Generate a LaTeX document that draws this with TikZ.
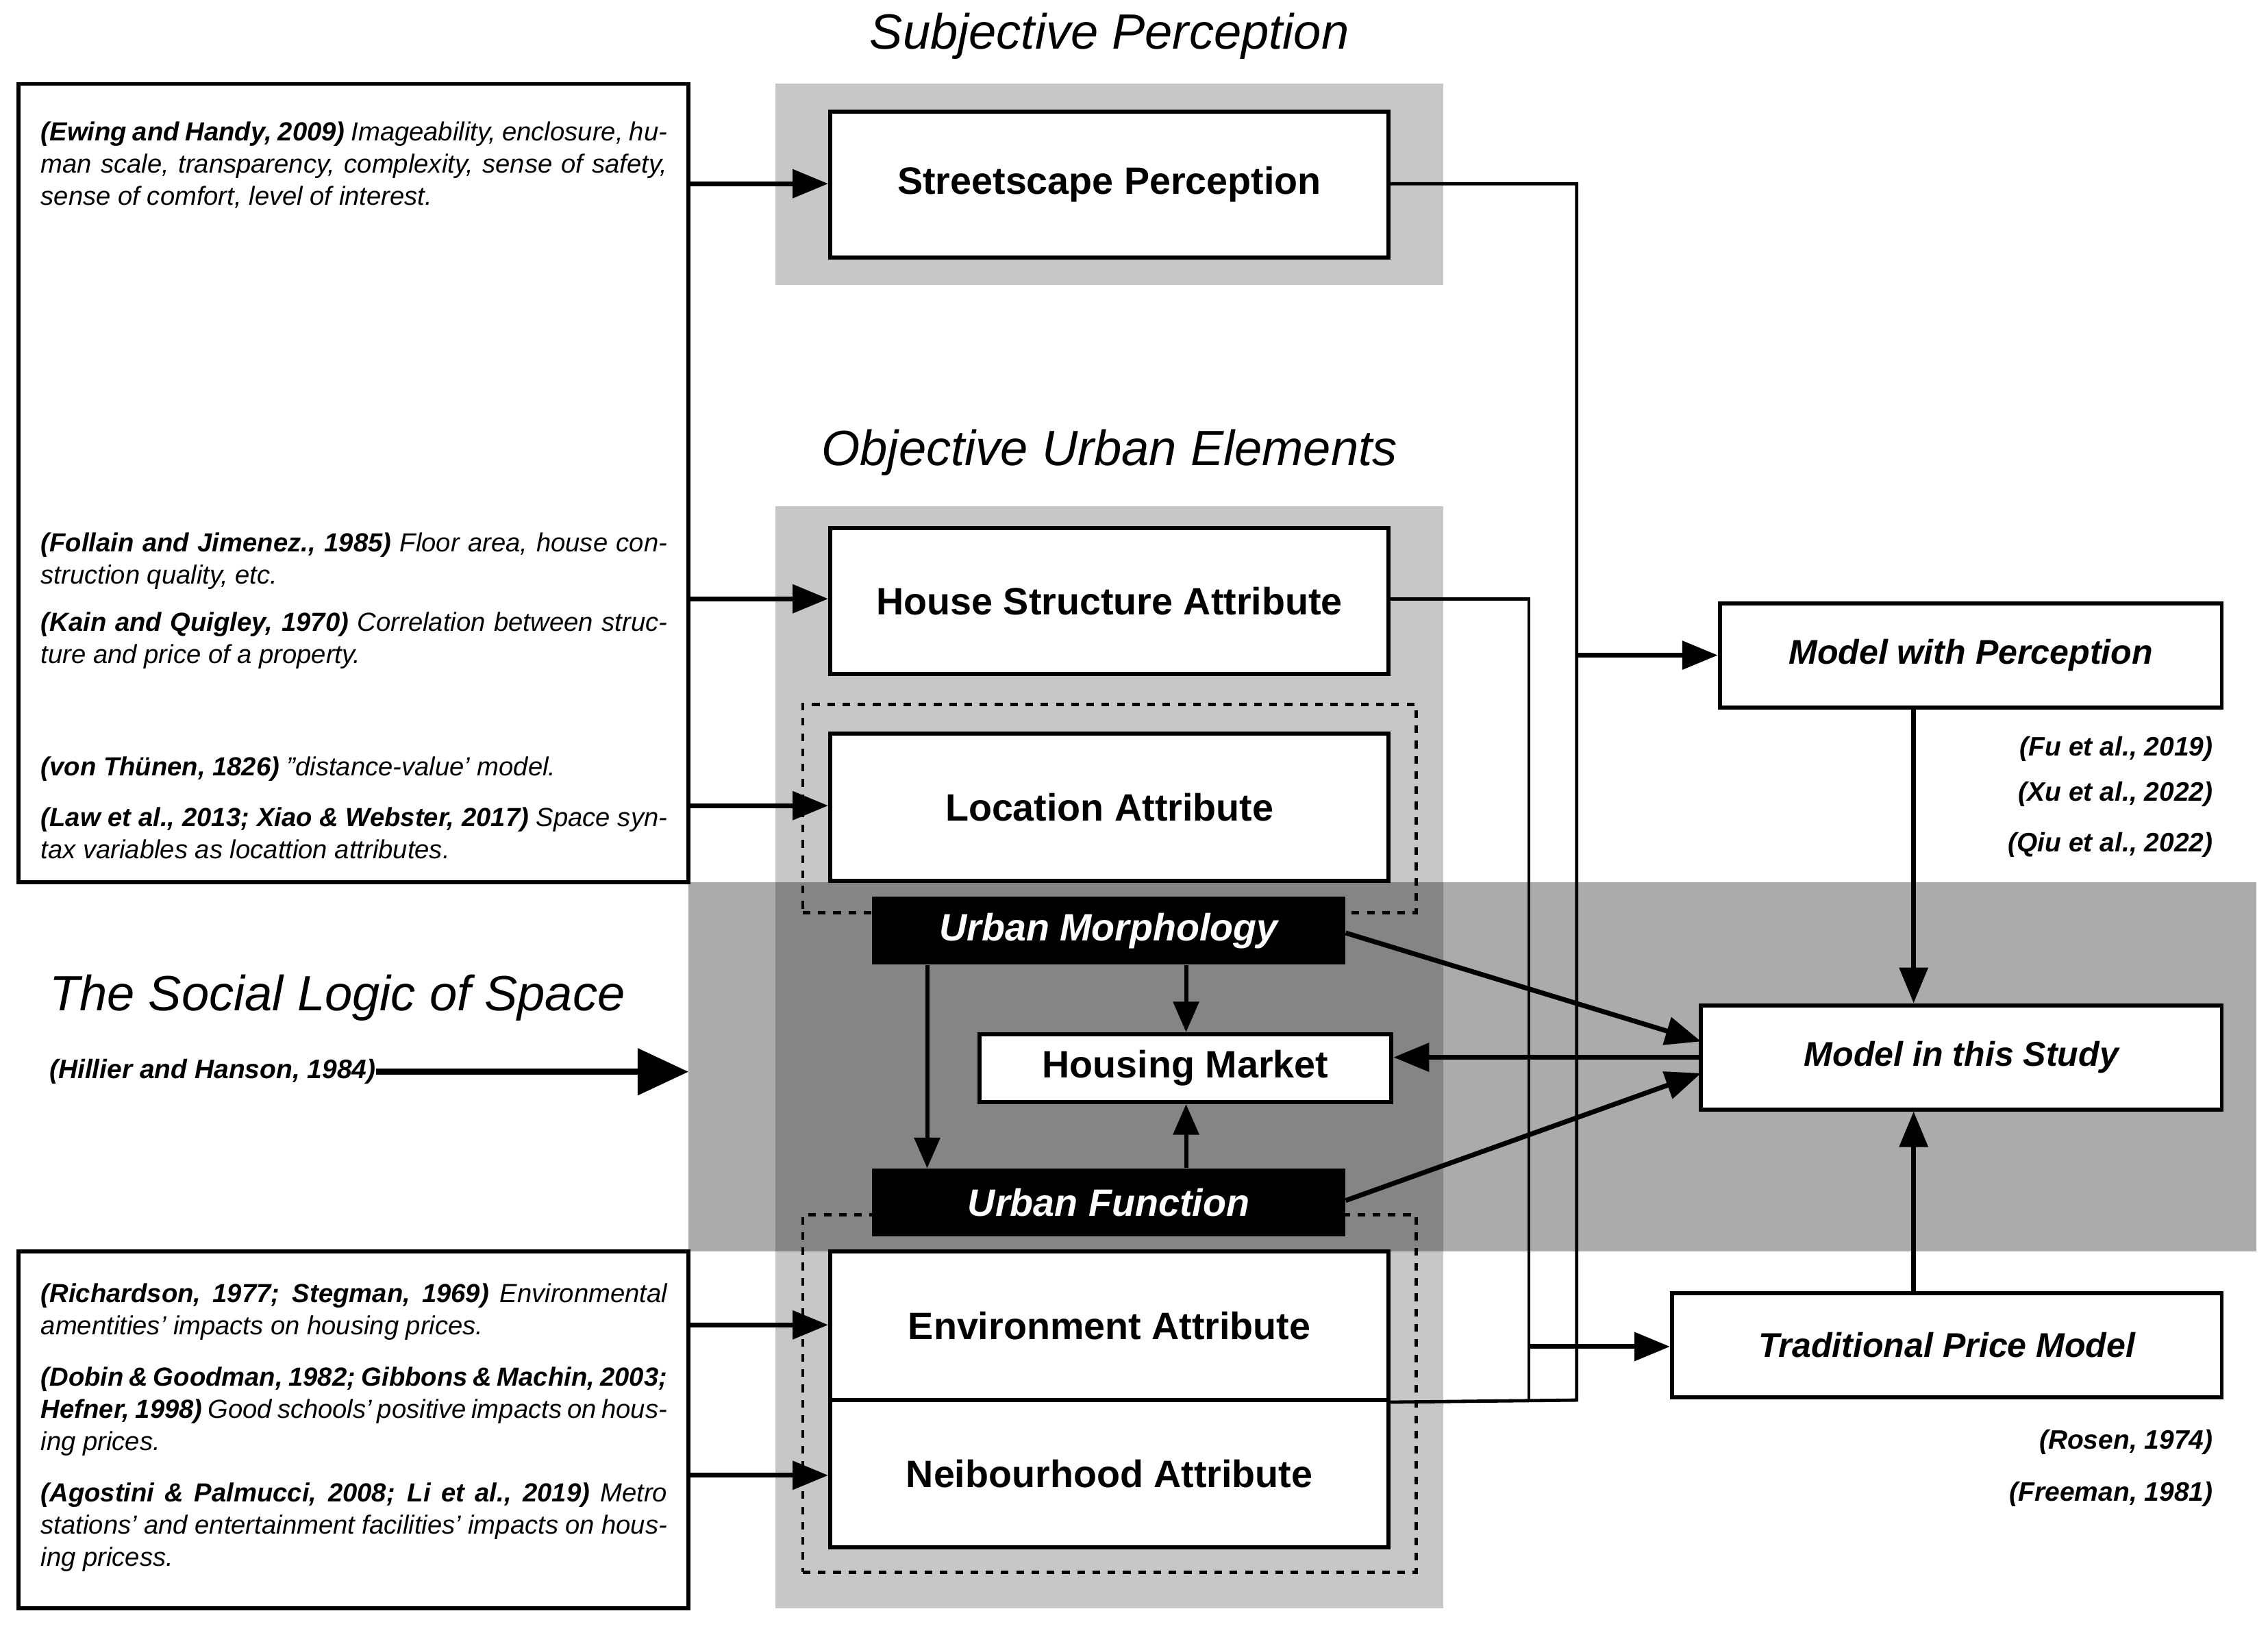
\documentclass[tikz,border=0pt]{standalone}
\usepackage{fontspec}
\setmainfont{Liberation Sans}
\usetikzlibrary{fit,arrows.meta}
\begin{document}
\begin{tikzpicture}[x=0.02cm,y=-0.02cm,
 box/.style={draw,line width=1.6pt,fill=white,inner sep=0pt},
 blk/.style={fill=black,inner sep=0pt},
 dsh/.style={draw,dashed,line width=1.3pt,inner sep=0pt},
 lt/.style={font=\fontsize{15}{18}\selectfont\bfseries},
 rt/.style={font=\fontsize{13.5}{16}\selectfont\bfseries\itshape},
 cit/.style={font=\fontsize{10.5}{13}\selectfont\bfseries\itshape,anchor=east},
 par/.style={anchor=north west,text width=433*0.02cm,align=justify,inner sep=0pt,font=\fontsize{10.3}{12.6}\selectfont\itshape},
 ln/.style={line width=1.3pt},
 ar/.style={line width=1.9pt,-{Triangle[length=14pt,width=11pt]}},
 arr/.style={line width=1.6pt,-{Triangle[length=12pt,width=10pt]}}]
\useasboundingbox (0,0) rectangle (1568,1130);
% backgrounds
\fill[gray!40!white,fill=black!22] (536,58) rectangle (998,197);
\fill[fill=black!22] (536,350) rectangle (998,1112);
\fill[fill=black!33] (476,610) rectangle (1560,865);
\fill[fill=black!48] (536,610) rectangle (998,865);
% titles
\node[font=\fontsize{19.5}{22}\selectfont\itshape] (t1) at (767,25) {Subjective Perception};
\node[font=\fontsize{19.5}{22}\selectfont\itshape] (t2) at (767,313) {Objective Urban Elements};
% main boxes
\node[box,fit={(574,77) (960,178)},label={[lt]center:Streetscape Perception}] (sp) {};
\node[box,fit={(574,365) (960,466)},label={[lt]center:House Structure Attribute}] (hs) {};
\node[dsh,fit={(555,487) (979,631)}] (d1) {};
\node[box,fit={(574,507) (960,609)},label={[lt]center:Location Attribute}] (la) {};
\node[dsh,fit={(555,840) (979,1087)}] (d2) {};
\node[box,fit={(574,865) (960,968)},label={[lt]center:Environment Attribute}] (ea) {};
\node[box,fit={(574,968) (960,1070)},label={[lt]center:Neibourhood Attribute}] (na) {};
\node[blk,fit={(603,620) (930,667)},label={[lt,white,font=\fontsize{15}{18}\selectfont\bfseries\itshape]center:Urban Morphology}] (um) {};
\node[blk,fit={(603,808) (930,855)},label={[lt,white,font=\fontsize{15}{18}\selectfont\bfseries\itshape]center:Urban Function}] (uf) {};
\node[box,fit={(677,715) (962,762)},label={[lt]center:Housing Market}] (hm) {};
% right boxes
\node[box,fit={(1189,417) (1536,489)},label={[rt]center:Model with Perception}] (mp) {};
\node[box,fit={(1176,695) (1536,767)},label={[rt]center:Model in this Study}] (ms) {};
\node[box,fit={(1156,894) (1536,966)},label={[rt]center:Traditional Price Model}] (tp) {};
\node[cit] (c1) at (1536,518) {(Fu et al., 2019)};
\node[cit] (c2) at (1536,549) {(Xu et al., 2022)};
\node[cit] (c3) at (1536,584) {(Qiu et al., 2022)};
\node[cit] (c4) at (1536,997) {(Rosen, 1974)};
\node[cit] (c5) at (1536,1033) {(Freeman, 1981)};
% left boxes
\node[box,fit={(13,58) (476,610)}] (lb1) {};
\node[box,fit={(13,865) (476,1112)}] (lb2) {};
\node[par] (p1) at (28,84) {\textbf{(Ewing and Handy, 2009)} Imageability, enclosure, human scale, transparency, complexity, sense of safety, sense of comfort, level of interest.};
\node[par] (p2) at (28,368) {\textbf{(Follain and Jimenez., 1985)} Floor area, house construction quality, etc.};
\node[par] (p3) at (28,423) {\textbf{(Kain and Quigley, 1970)} Correlation between structure and price of a property.};
\node[par] (p4) at (28,523) {\textbf{(von Thünen, 1826)} ”distance-value' model.};
\node[par] (p5) at (28,558) {\textbf{(Law et al., 2013; Xiao \& Webster, 2017)} Space syntax variables as locattion attributes.};
\node[par] (p6) at (28,887) {\textbf{(Richardson, 1977; Stegman, 1969)} Environmental amentities' impacts on housing prices.};
\node[par] (p7) at (28,945) {\textbf{(Dobin \& Goodman, 1982; Gibbons \& Machin, 2003; Hefner, 1998)} Good schools' positive impacts on housing prices.};
\node[par] (p8) at (28,1025) {\textbf{(Agostini \& Palmucci, 2008; Li et al., 2019)} Metro stations' and entertainment facilities' impacts on housing pricess.};
\node[font=\fontsize{19.5}{22}\selectfont\itshape,anchor=west] (sl) at (28,690) {The Social Logic of Space};
\node[font=\fontsize{10.5}{13}\selectfont\bfseries\itshape,anchor=west] (hh) at (28,741) {(Hillier and Hanson, 1984)};
\coordinate (hhs) at (260,741); \coordinate (hhe) at (476,741);
\draw[line width=2.4pt,-{Triangle[length=20pt,width=18pt]}] (hhs) -- (hhe);
% left arrows
\draw[ar] (476,127) -- (sp.west |- 0,127);
\draw[ar] (476,414) -- (hs.west |- 0,414);
\draw[ar] (476,557) -- (la.west |- 0,557);
\draw[ar] (476,916) -- (ea.west |- 0,916);
\draw[ar] (476,1020) -- (na.west |- 0,1020);
% right connectors
\draw[ln] (sp.east |- 0,127) -- (1090,127) -- (1090,968) -- (ea.south east);
\draw[ln] (hs.east |- 0,414) -- (1057,414) -- (1057,968);
\draw[ar] (1090,453) -- (mp.west |- 0,453);
\draw[ar] (1057,931) -- (tp.west |- 0,931);
\draw[ar] (mp.south -| 1323,0) -- (ms.north -| 1323,0);
\draw[ar] (tp.north -| 1323,0) -- (ms.south -| 1323,0);
\draw[ar] (ms.west |- 0,731) -- (hm.east |- 0,731);
\draw[ar] (um.east |- 0,645) -- (1176,720);
\draw[ar] (uf.east |- 0,830) -- (1176,742);
\draw[arr] (um.south -| 820,0) -- (hm.north -| 820,0);
\draw[arr] (uf.north -| 820,0) -- (hm.south -| 820,0);
\draw[arr] (um.south -| 641,0) -- (uf.north -| 641,0);
\end{tikzpicture}
\end{document}
